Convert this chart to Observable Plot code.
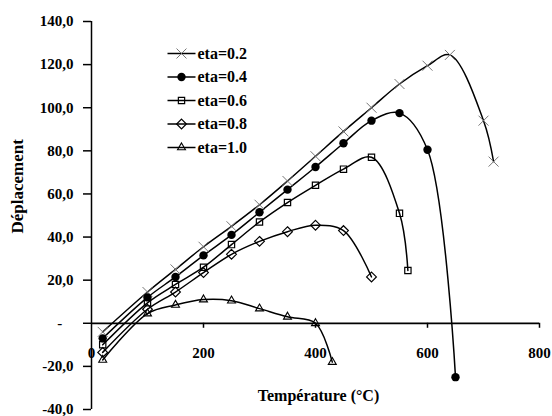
<!DOCTYPE html>
<html><head><meta charset="utf-8">
<script src="https://cdn.jsdelivr.net/npm/d3@7"></script>
<script src="https://cdn.jsdelivr.net/npm/@observablehq/plot@0.6"></script>
<style>
html,body{margin:0;padding:0;background:#fff;}
#chart{width:552px;height:416px;}
</style>
</head><body><div id="chart"></div>
<script>
// ---- data ----
const seriesNames = ["eta=0.2", "eta=0.4", "eta=0.6", "eta=0.8", "eta=1.0"];

const tEta02 = [20, 100, 150, 200, 250, 300, 350, 400, 450, 500, 550, 600, 640, 700, 718];
const dEta02 = [-4, 14.5, 25, 35.5, 45, 55, 66, 77.5, 89, 100, 111, 119.5, 124.5, 94, 75];

const tEta04 = [20, 100, 150, 200, 250, 300, 350, 400, 450, 500, 550, 600, 650];
const dEta04 = [-7, 12, 21.5, 31.5, 41, 51.5, 62, 72.5, 83.5, 94, 97.5, 80.5, -25];

const tEta06 = [20, 100, 150, 200, 250, 300, 350, 400, 450, 500, 550, 565];
const dEta06 = [-10, 9.5, 18, 26, 36.5, 47, 56, 64, 71.5, 77, 51, 24.5];

const tEta08 = [20, 100, 150, 200, 250, 300, 350, 400, 450, 500];
const dEta08 = [-13.5, 6.5, 14.5, 23.5, 32, 38, 42.5, 45.5, 43, 21.5];

const tEta10 = [20, 100, 150, 200, 250, 300, 350, 400, 430];
const dEta10 = [-17, 4.5, 8.5, 11, 10.5, 6.8, 3, 0, -18];

const xTicks = [0, 200, 400, 600, 800];
const xTickLabels = ["0", "200", "400", "600", "800"];
const yTicks = [-40, -20, 0, 20, 40, 60, 80, 100, 120, 140];
const yTickLabels = ["-40,0", "-20,0", "-\u00a0\u00a0\u00a0", "20,0", "40,0", "60,0", "80,0", "100,0", "120,0", "140,0"];

const xTitle = "Température (°C)";
const yTitle = "Déplacement";
const xAxisAt = 0; // value of y where the horizontal axis crosses

// ---- build table ----
const temps = [tEta02, tEta04, tEta06, tEta08, tEta10];
const disps = [dEta02, dEta04, dEta06, dEta08, dEta10];
const rows = seriesNames.flatMap((name, i) => temps[i].map((t, j) => ({series: name, T: t, D: disps[i][j]})));

// marker styles per series
const markerStyles = [
  {symbol: "times", r: 4.6, fill: "none", stroke: "#777", strokeWidth: 1},
  {symbol: "circle", r: 4.2, fill: "black", stroke: "none", strokeWidth: 0},
  {symbol: "square2", r: 4, fill: "none", stroke: "black", strokeWidth: 1.2},
  {symbol: "diamond2", r: 4.4, fill: "none", stroke: "black", strokeWidth: 1.2},
  {symbol: "triangle2", r: 3.8, fill: "none", stroke: "black", strokeWidth: 1.1}
];

const legendLine = {draw(ctx) { ctx.moveTo(-14, 0); ctx.lineTo(14, 0); }};

const legendMarks = seriesNames.flatMap((name, i) => {
  const dy = 32 + i * 23.5;
  return [
    Plot.dot([name], {frameAnchor: "top-left", dx: 90, dy, symbol: legendLine, r: 4, fill: "none", stroke: "black", strokeWidth: 1.5}),
    Plot.dot([name], {frameAnchor: "top-left", dx: 90, dy, ...markerStyles[i]}),
    Plot.text([name], {frameAnchor: "top-left", dx: 106, dy, text: d => d, textAnchor: "start", lineAnchor: "middle", fontSize: 16, fontWeight: "bold"})
  ];
});

const chart = Plot.plot({
  width: 552,
  height: 416,
  marginLeft: 91,
  marginRight: 13,
  marginTop: 21,
  marginBottom: 7,
  style: {fontFamily: "'Liberation Serif', 'Times New Roman', serif", fontSize: "15px", fontWeight: "bold", background: "#fff", color: "black"},
  x: {domain: [0, 800]},
  y: {domain: [-40, 140]},
  marks: [
    Plot.axisY(yTicks, {tickSize: 8, tickPadding: 10, tickFormat: d => yTickLabels[yTicks.indexOf(d)], label: null, fontSize: 15, strokeWidth: 1.5}),
    Plot.axisX([], {label: null}),
    Plot.ruleX([0], {stroke: "black", strokeWidth: 1.5}),
    Plot.ruleY([xAxisAt], {stroke: "black", strokeWidth: 1.8}),
    Plot.ruleX(xTicks.filter(d => d > 0), {x: d => d, y1: xAxisAt, y2: xAxisAt, insetBottom: -5, stroke: "black", strokeWidth: 1.5}),
    Plot.text(xTicks, {x: d => d, y: xAxisAt, dy: 30, text: (d, i) => xTickLabels[i], lineAnchor: "middle", fontSize: 15}),
    Plot.line(rows, {x: "T", y: "D", z: "series", curve: "catmull-rom", stroke: "black", strokeWidth: 1.5}),
    ...seriesNames.map((name, i) => Plot.dot(rows.filter(r => r.series === name), {x: "T", y: "D", ...markerStyles[i]})),
    ...legendMarks,
    Plot.text([xTitle], {frameAnchor: "bottom", dx: 3, dy: -14, text: d => d, lineAnchor: "middle", fontSize: 16}),
    Plot.text([yTitle], {frameAnchor: "left", dx: -74, dy: 18, rotate: -90, text: d => d, lineAnchor: "middle", fontSize: 17})
  ]
});
document.getElementById("chart").appendChild(chart);
</script>
</body></html>
